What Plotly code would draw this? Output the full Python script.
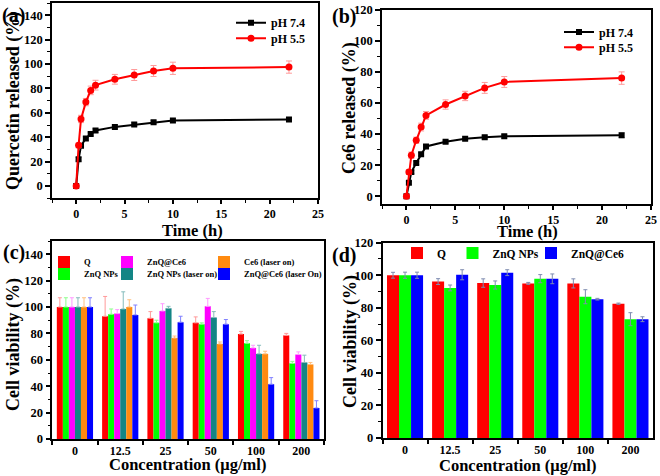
import plotly.graph_objects as go

# ---------------- data ----------------
time_h = [0, 0.25, 0.5, 1, 1.5, 2, 4, 6, 8, 10, 22]

a_ph74 = [0, 22, 33, 39, 42.7, 45.5, 48.5, 50.4, 52.3, 53.7, 54.5]
a_ph74_err = [0.5, 1.5, 1.5, 1.5, 1.5, 1.5, 1.5, 1.5, 1.5, 1.5, 1.5]
a_ph55 = [0, 33.4, 55, 68.8, 78.4, 82.7, 87.5, 91, 94.3, 96.5, 97.5]
a_ph55_err = [0.5, 2, 3, 3, 3.5, 4, 4, 4.5, 4.5, 5, 5]

b_ph74 = [0, 8.6, 15.6, 21.4, 27, 32, 35, 37, 38, 38.6, 39.2]
b_ph74_err = [0.5, 1, 1, 1, 1, 1, 1, 1.2, 1.2, 1.2, 1.5]
b_ph55 = [0, 15.6, 26.4, 36, 44.5, 52, 59, 64.5, 69.7, 73.5, 76]
b_ph55_err = [0.5, 1.5, 2, 2, 2.5, 2.5, 3, 3, 3.5, 3.5, 4]

conc = ["0", "12.5", "25", "50", "100", "200"]

c_Q = [100, 93, 91.5, 88, 79.5, 78.5]
c_Q_err = [7, 15, 5, 4.5, 2, 1.5]
c_ZnQ = [100, 94.5, 88, 87, 72.5, 57.3]
c_ZnQ_err = [7, 4, 2, 1, 2, 1.5]
c_ZnQCe6 = [100, 95, 97, 100.5, 69, 64]
c_ZnQCe6_err = [7, 3, 5.5, 6, 2, 2]
c_ZnQ_laser = [100, 98.5, 99, 92, 64.5, 58]
c_ZnQ_laser_err = [7, 13, 1.5, 4.5, 6.5, 5.5]
c_Ce6_laser = [100, 100, 76.5, 72, 64.5, 56.5]
c_Ce6_laser_err = [7, 5.5, 1.5, 1.5, 2, 1.5]
c_ZnQCe6_laser = [100, 94, 88.5, 87, 41.5, 23.5]
c_ZnQCe6_laser_err = [7, 7.5, 4.5, 3.5, 5, 5.5]

d_Q = [100, 96.1, 95.2, 95, 95, 82.5]
d_Q_err = [1.8, 1.8, 2.6, 0.6, 2.8, 0.4]
d_ZnQ = [100, 92.2, 94, 97.9, 86.8, 73]
d_ZnQ_err = [1.9, 1.8, 2.5, 2.5, 4.3, 4.0]
d_ZnQCe6 = [100, 100.3, 101.6, 97.8, 85.3, 73]
d_ZnQCe6_err = [1.9, 3.1, 1.8, 3.0, 0.5, 1.5]

# ---------------- style ----------------
W, H = 660, 476
FONT = "Liberation Serif, Times New Roman, serif"


def px_x(p):
    return p / W


def px_y(p):
    return 1 - p / H


fig = go.Figure()

# (a)
fig.add_trace(go.Scatter(x=time_h, y=a_ph74, mode="lines+markers", name="pH 7.4",
                         line=dict(color="black", width=2),
                         marker=dict(symbol="square", size=6, color="black"),
                         error_y=dict(type="data", array=a_ph74_err, color="#9a9a9a", thickness=1, width=3),
                         xaxis="x", yaxis="y", legend="legend", showlegend=True))
fig.add_trace(go.Scatter(x=time_h, y=a_ph55, mode="lines+markers", name="pH 5.5",
                         line=dict(color="#ff0000", width=2),
                         marker=dict(symbol="circle", size=7, color="#ff0000"),
                         error_y=dict(type="data", array=a_ph55_err, color="#ff9a9a", thickness=1, width=3),
                         xaxis="x", yaxis="y", legend="legend2", showlegend=True))
# (b)
fig.add_trace(go.Scatter(x=time_h, y=b_ph74, mode="lines+markers", name="pH 7.4",
                         line=dict(color="black", width=2),
                         marker=dict(symbol="square", size=6, color="black"),
                         error_y=dict(type="data", array=b_ph74_err, color="#9a9a9a", thickness=1, width=3),
                         xaxis="x2", yaxis="y2", legend="legend3", showlegend=True))
fig.add_trace(go.Scatter(x=time_h, y=b_ph55, mode="lines+markers", name="pH 5.5",
                         line=dict(color="#ff0000", width=2),
                         marker=dict(symbol="circle", size=7, color="#ff0000"),
                         error_y=dict(type="data", array=b_ph55_err, color="#ff9a9a", thickness=1, width=3),
                         xaxis="x2", yaxis="y2", legend="legend4", showlegend=True))

# (c)
c_series = [
    ("Q", c_Q, c_Q_err, "#ff0000", "#ff9a9a", "legend5", 18),
    ("ZnQ NPs", c_ZnQ, c_ZnQ_err, "#00ff00", "#8cff8c", "legend6", 18),
    ("ZnQ@Ce6", c_ZnQCe6, c_ZnQCe6_err, "#ff00ff", "#ff9aff", "legend5", 52),
    ("ZnQ NPs (laser on)", c_ZnQ_laser, c_ZnQ_laser_err, "#138585", "#86bcbc", "legend6", 52),
    ("Ce6 (laser on)", c_Ce6_laser, c_Ce6_laser_err, "#ff8a10", "#ffc080", "legend5", 90),
    ("ZnQ@Ce6 (laser On)", c_ZnQCe6_laser, c_ZnQCe6_laser_err, "#0000ff", "#8080ff", "legend6", 90),
]
for name, vals, err, col, ecol, leg, lw in c_series:
    fig.add_trace(go.Bar(x=conc, y=vals, name=name, marker=dict(color=col, line=dict(width=0)),
                         error_y=dict(type="data", array=err, symmetric=False, arrayminus=[0] * len(err),
                                      color=ecol, thickness=1, width=2),
                         xaxis="x3", yaxis="y3", legend=leg, legendwidth=lw,
                         offsetgroup=name, showlegend=True))

# (d)
d_series = [
    ("Q", d_Q, d_Q_err, "#ff0000", 10.5),
    ("ZnQ NPs", d_ZnQ, d_ZnQ_err, "#00ff00", 33.5),
    ("ZnQ@Ce6", d_ZnQCe6, d_ZnQCe6_err, "#0000ff", 70),
]
for name, vals, err, col, lw in d_series:
    fig.add_trace(go.Bar(x=conc, y=vals, name=name, marker=dict(color=col, line=dict(width=0)),
                         error_y=dict(type="data", array=err, color="#7f8cb0", thickness=1, width=2),
                         xaxis="x4", yaxis="y4", legend="legend7", legendwidth=lw,
                         offsetgroup="d" + name, showlegend=True))

tickfont = dict(family=FONT, size=12.5, color="black", weight="bold")
minor = dict(ticks="outside", ticklen=3, tickwidth=1.2, tickcolor="black")
base = dict(showline=True, linecolor="black", linewidth=1.5, mirror=True, ticks="outside",
            ticklen=5, tickwidth=1.5, tickcolor="black", showgrid=False, zeroline=False,
            tickfont=tickfont, automargin=False)
xbase = dict(base, ticklen=4, tickfont=dict(tickfont, size=12))

fig.update_layout(
    width=W, height=H, margin=dict(l=0, r=0, t=0, b=0, pad=0, autoexpand=False),
    paper_bgcolor="white", plot_bgcolor="white", showlegend=True,
    barmode="group", bargap=0.2, bargroupgap=0,
    font=dict(family=FONT, color="black"),
    xaxis=dict(xbase, domain=[px_x(52), px_x(318)], range=[-2.5, 25], tick0=0, dtick=5,
               minor=dict(minor, dtick=2.5, tick0=0), anchor="y"),
    yaxis=dict(base, domain=[px_y(198.3), px_y(3)], range=[-10, 150], tick0=0, dtick=20,
               minor=dict(minor, dtick=10, tick0=0), anchor="x"),
    xaxis2=dict(xbase, domain=[px_x(382), px_x(651)], range=[-2.5, 25], tick0=0, dtick=5,
                minor=dict(minor, dtick=2.5, tick0=0), anchor="y2"),
    yaxis2=dict(base, domain=[px_y(204), px_y(9.7)], range=[-5, 120], tick0=0, dtick=20,
                minor=dict(minor, dtick=10, tick0=0), anchor="x2"),
    xaxis3=dict(xbase, domain=[px_x(52.3), px_x(324)], type="category", range=[-0.5, 5.5],
                tickson="boundaries", anchor="y3"),
    yaxis3=dict(base, domain=[px_y(439), px_y(241)], range=[0, 150], tick0=0, dtick=20,
                minor=dict(minor, dtick=10, tick0=0), anchor="x3"),
    xaxis4=dict(xbase, domain=[px_x(382.5), px_x(653)], type="category", range=[-0.5, 5.5],
                tickson="boundaries", anchor="y4"),
    yaxis4=dict(base, domain=[px_y(438), px_y(242.7)], range=[0, 120], tick0=0, dtick=20,
                minor=dict(minor, dtick=10, tick0=0), anchor="x4"),
)

leg_common = dict(orientation="h", xanchor="left", yanchor="top", bgcolor="rgba(0,0,0,0)",
                  borderwidth=0, tracegroupgap=0, visible=True)
f12 = dict(family=FONT, size=12, color="black", weight="bold")
fig.update_layout(
    legend=dict(leg_common, x=px_x(231), y=px_y(8.2), font=f12),
    legend2=dict(leg_common, x=px_x(231), y=px_y(23.8), font=f12),
    legend3=dict(leg_common, x=px_x(559), y=px_y(17.5), font=f12),
    legend4=dict(leg_common, x=px_x(559), y=px_y(32.8), font=f12),
    legend5=dict(leg_common, x=px_x(44), y=px_y(247.5), font=dict(f12, size=8.5)),
    legend6=dict(leg_common, x=px_x(44), y=px_y(259.5), font=dict(f12, size=8.5)),
    legend7=dict(leg_common, x=px_x(397), y=px_y(238.5), font=dict(f12, size=11.5)),
)

annotations = []


def ann(text, cx, cy, size, angle=0):
    annotations.append(dict(text=text, x=px_x(cx), y=px_y(cy), xref="paper", yref="paper",
                            xanchor="center", yanchor="middle", showarrow=False, textangle=angle,
                            font=dict(family=FONT, size=size, color="black", weight="bold")))


# axis titles
ann("Time (h)", 192.5, 230, 16.5)
ann("Quercetin released (%)", 13, 101, 18, -90)
ann("Time (h)", 527.5, 231, 16.5)
ann("Ce6 released (%)", 350, 108, 18, -90)
ann("Concentration (μg/ml)", 187.5, 464.5, 16.5)
ann("Cell viability (%)", 13, 345, 18, -90)
ann("Concentration (μg/ml)", 517, 465, 16.5)
ann("Cell viability (%)", 350, 342, 18, -90)
# panel labels
ann("(a)", 13.5, 15, 20)
ann("(b)", 344, 17, 20)
ann("(c)", 13.5, 252.5, 20)
ann("(d)", 344, 255, 20)

fig.update_layout(annotations=annotations)

fig.write_html("out.html", config={"displayModeBar": False},
               post_script="document.body.style.margin='0';document.body.style.padding='0';")
